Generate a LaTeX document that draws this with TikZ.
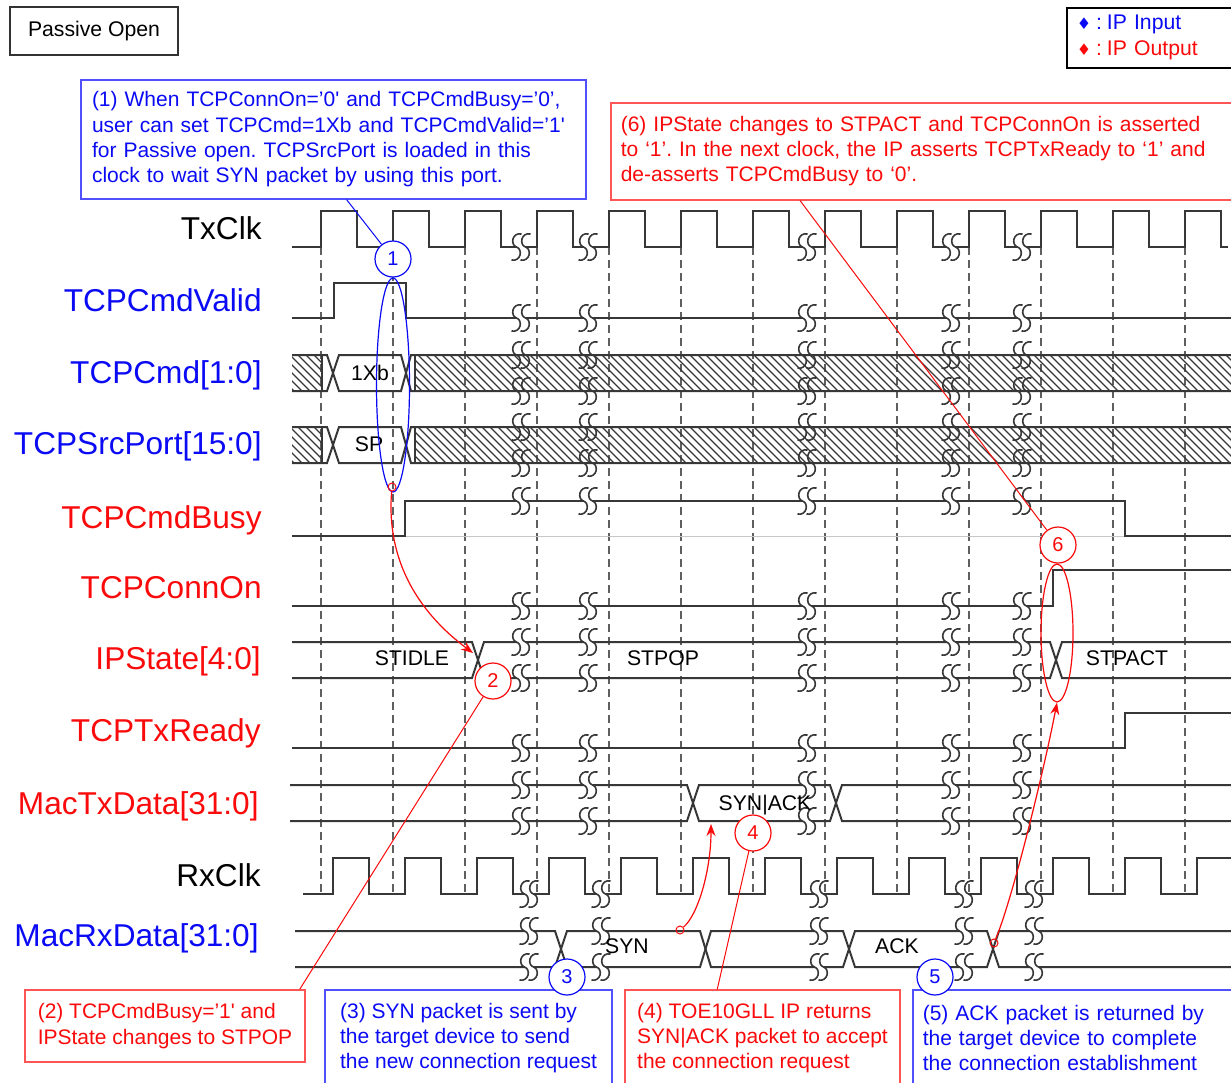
\documentclass[tikz,border=0pt]{standalone}
\usepackage{fontspec}
\setmainfont{Liberation Sans}
\newfontfamily\dvfont{DejaVu Sans}
\usetikzlibrary{arrows.meta,shapes.geometric,calc}
\frenchspacing
\definecolor{ipblue}{RGB}{10,10,245}
\definecolor{ipred}{RGB}{250,10,10}
\definecolor{boxblue}{RGB}{80,80,255}
\definecolor{boxred}{RGB}{255,85,85}
\definecolor{wavecol}{RGB}{55,55,55}
\definecolor{dashcol}{RGB}{95,95,95}
\tikzset{
 wave/.style={draw=wavecol, line width=1pt, line join=miter},
 hatchln/.style={draw=wavecol, line width=0.55pt},
 gridln/.style={draw=dashcol, line width=0.75pt, dash pattern=on 4pt off 2.5pt},
 siglabel/.style={anchor=base east, font=\fontsize{15.8}{18}\selectfont, inner sep=0pt},
 buslabel/.style={anchor=base, font=\fontsize{10.6}{12}\selectfont, inner sep=0pt, text=black},
 numc/.style={circle, draw, fill=white, minimum size=18pt, inner sep=0pt, line width=0.6pt, font=\fontsize{10}{12}\selectfont},
 note/.style={draw, line width=0.75pt, align=left, font=\fontsize{10.5}{12.65}\selectfont, inner sep=0pt},
 bluecon/.style={draw=ipblue, line width=0.5pt},
 redcon/.style={draw=ipred, line width=0.5pt},
 redarrow/.style={draw=ipred, line width=0.6pt, -{Stealth[length=6pt,width=4.5pt]}},
 tinyc/.style={circle, draw=ipred, line width=0.5pt, minimum size=4pt, inner sep=0pt},
 brkcurves/.pic={
   \draw[wavecol, line width=0.8pt] (0.5,-13) .. controls (-9,-15) and (-11,-2) .. (-4.5,0) .. controls (2,2) and (0,15) .. (-9.5,13);
   \draw[wavecol, line width=0.8pt] (9.5,-13) .. controls (0,-15) and (-2,-2) .. (4.5,0) .. controls (11,2) and (9,15) .. (-0.5,13);
 },
 brk/.pic={
   \fill[white] (-4.5,-2.5) rectangle (4.5,2.5);
   \pic {brkcurves};
 },
 brkh/.pic={\pic {brkcurves};},
}
\begin{document}
\begin{tikzpicture}[x=0.5pt,y=-0.5pt]
\clip (0,0) rectangle (1231,1082);
\fill[white] (0,0) rectangle (1231,1082);

% ---------- grid ----------
\foreach \k in {0,...,12} \draw[gridln] ({321+72*\k},247) -- ({321+72*\k},894);

% ---------- signal labels ----------
\node[siglabel, text=black]  (lTxClk) at (262,239) {TxClk};
\node[siglabel, text=ipblue] (lValid) at (262,311) {TCPCmdValid};
\node[siglabel, text=ipblue] (lCmd)   at (262,383) {TCPCmd[1:0]};
\node[siglabel, text=ipblue] (lSrc)   at (262,454) {TCPSrcPort[15:0]};
\node[siglabel, text=ipred]  (lBusy)  at (262,528) {TCPCmdBusy};
\node[siglabel, text=ipred]  (lConn)  at (262,598) {TCPConnOn};
\node[siglabel, text=ipred]  (lState) at (261,669) {IPState[4:0]};
\node[siglabel, text=ipred]  (lTxRdy) at (261,741) {TCPTxReady};
\node[siglabel, text=ipred]  (lMacTx) at (259,814) {MacTxData[31:0]};
\node[siglabel, text=black]  (lRxClk) at (261,886) {RxClk};
\node[siglabel, text=ipblue] (lMacRx) at (259,946) {MacRxData[31:0]};

% ---------- TxClk ----------
\draw[wave] (292,247) \foreach \k in {0,...,12}{ -- ({321+72*\k},247) -- ({321+72*\k},211) -- ({357+72*\k},211) -- ({357+72*\k},247)} -- (1228,247);
\foreach \bx in {521,588,807,951,1022} \pic at (\bx,247) {brk};

% ---------- TCPCmdValid ----------
\draw[wave] (292,318) -- (334,318) -- (334,283) -- (406,283) -- (406,318) -- (1240,318);
\foreach \bx in {521,588,807,951,1022} \pic at (\bx,318) {brk};

% ---------- hatched buses ----------
\begin{scope}
\clip (292,355) rectangle (322,391) (415,355) rectangle (1240,391)
      (292,427) rectangle (322,463) (415,427) rectangle (1240,463);
\foreach \i in {0,...,126} {
  \draw[hatchln] ({250+8*\i},355) -- ({286+8*\i},391);
  \draw[hatchln] ({250+8*\i},427) -- ({286+8*\i},463);
}
\end{scope}
% TCPCmd
\draw[wave] (292,355) -- (327,355) -- (339,391) -- (401,391) -- (411,355) -- (1240,355);
\draw[wave] (292,391) -- (327,391) -- (339,355) -- (401,355) -- (411,391) -- (1240,391);
\draw[wave] (322,355) -- (322,391) (415,355) -- (415,391);
\node[buslabel] (vCmd) at (370,380) {1Xb};
% TCPSrcPort
\draw[wave] (292,427) -- (327,427) -- (339,463) -- (401,463) -- (411,427) -- (1240,427);
\draw[wave] (292,463) -- (327,463) -- (339,427) -- (401,427) -- (411,463) -- (1240,463);
\draw[wave] (322,427) -- (322,463) (415,427) -- (415,463);
\node[buslabel] (vSrc) at (369,451) {SP};
\foreach \bx in {521,588,807,951,1022} {
  \pic at (\bx,355) {brkh}; \pic at (\bx,391) {brkh};
  \pic at (\bx,427) {brkh}; \pic at (\bx,463) {brkh};
}

% ---------- TCPCmdBusy ----------
\draw[draw=black!22, line width=0.5pt] (405,536) -- (1125,536);
\draw[wave] (292,536) -- (405,536) -- (405,501) -- (1125,501) -- (1125,536) -- (1240,536);
\foreach \bx in {521,588,807,951,1022} \pic at (\bx,501) {brk};

% ---------- TCPConnOn ----------
\draw[wave] (292,606) -- (1053,606) -- (1053,570) -- (1240,570);
\foreach \bx in {521,588,807,951,1022} \pic at (\bx,606) {brk};

% ---------- IPState ----------
\draw[wave] (292,642) -- (472,642) -- (484,678) -- (1050,678) -- (1062,642) -- (1240,642);
\draw[wave] (292,678) -- (472,678) -- (484,642) -- (1050,642) -- (1062,678) -- (1240,678);
\foreach \bx in {521,588,807,951,1022} {\pic at (\bx,642) {brk}; \pic at (\bx,678) {brk};}
\node[buslabel] (vIdle) at (412,665) {STIDLE};
\node[buslabel] (vPop) at (663,665) {STPOP};
\node[buslabel] (vAct) at (1127,665) {STPACT};

% ---------- TCPTxReady ----------
\draw[wave] (292,748) -- (1125,748) -- (1125,713) -- (1240,713);
\foreach \bx in {521,588,807,951,1022} \pic at (\bx,748) {brk};

% ---------- MacTxData ----------
\draw[wave] (290,785) -- (687,785) -- (699,821) -- (830,821) -- (842,785) -- (1240,785);
\draw[wave] (290,821) -- (687,821) -- (699,785) -- (830,785) -- (842,821) -- (1240,821);
\foreach \bx in {521,588,807,951,1022} {\pic at (\bx,785) {brk}; \pic at (\bx,821) {brk};}
\node[buslabel] (vSynAck) at (765,810) {SYN|ACK};

% ---------- RxClk ----------
\draw[wave] (303,894) \foreach \k in {0,...,11}{ -- ({333+72*\k},894) -- ({333+72*\k},858) -- ({369+72*\k},858) -- ({369+72*\k},894)} -- (1197,894) -- (1197,858) -- (1240,858);
\foreach \bx in {529,601,819,964,1034} \pic at (\bx,894) {brk};

% ---------- MacRxData ----------
\draw[wave] (295,931) -- (555,931) -- (567,967) -- (700,967) -- (711,931) -- (843,931) -- (855,967) -- (987,967) -- (999,931) -- (1240,931);
\draw[wave] (295,967) -- (555,967) -- (567,931) -- (700,931) -- (711,967) -- (843,967) -- (855,931) -- (987,931) -- (999,967) -- (1240,967);
\foreach \bx in {529,601,819,964,1034} {\pic at (\bx,931) {brk}; \pic at (\bx,967) {brk};}
\node[buslabel] (vSyn) at (627,953) {SYN};
\node[buslabel] (vAck) at (897,953) {ACK};

% ---------- title and legend ----------
\node[draw=black!80, line width=0.75pt, minimum width=84pt, minimum height=24pt, inner sep=0pt,
      font=\fontsize{10.6}{12}\selectfont] (title) at (94,31) {Passive Open};
\node[draw=black, line width=0.75pt, anchor=north west, align=left, text width=100pt,
      minimum height=30pt, inner xsep=5pt, inner ysep=0pt, font=\fontsize{10.6}{13}\selectfont] (legend) at (1066,7)
  {\textcolor{ipblue}{{\dvfont\fontsize{8}{10}\selectfont ♦}\hspace{2.5pt}:\hspace{2.5pt}IP Input}\\
   \textcolor{ipred}{{\dvfont\fontsize{8}{10}\selectfont ♦}\hspace{2.5pt}:\hspace{2.5pt}IP Output}};

% ---------- note boxes ----------
\node[note, draw=boxblue, text=ipblue, text width=241.5pt, inner xsep=5.5pt, minimum height=59.5pt] (box1) at (333.5,139.5)
 {(1) When TCPConnOn=’0\textquotesingle{} and TCPCmdBusy=’0’,\\
  user can set TCPCmd=1Xb and TCPCmdValid=’1\textquotesingle\\
  for Passive open. TCPSrcPort is loaded in this\\
  clock to wait SYN packet by using this port.};
\node[note, draw=boxred, text=ipred, anchor=north west, text width=310pt, inner xsep=5pt, minimum height=48.5pt] (box6) at (610,102)
 {(6) IPState changes to STPACT and TCPConnOn is asserted\\
  to ‘1’. In the next clock, the IP asserts TCPTxReady to ‘1’ and\\
  de-asserts TCPCmdBusy to ‘0’.};
\node[note, draw=boxred, text=ipred, minimum width=140pt, minimum height=36pt] (box2) at (165,1026)
 {(2) TCPCmdBusy=’1\textquotesingle{} and\\ IPState changes to STPOP};
\node[note, draw=boxblue, text=ipblue, minimum width=143.5pt, minimum height=48pt] (box3) at (468.5,1038)
 {(3) SYN packet is sent by\\ the target device to send\\ the new connection request};
\node[note, draw=boxred, text=ipred, minimum width=137.5pt, minimum height=48pt] (box4) at (762.5,1038)
 {(4) TOE10GLL IP returns\\ SYN|ACK packet to accept\\ the connection request};
\node[note, draw=boxblue, text=ipblue, anchor=west, text width=160pt, inner xsep=5pt, minimum height=48pt] (box5) at (912,1038)
 {(5) ACK packet is returned by\\ the target device to complete\\ the connection establishment};

% ---------- ellipses and markers ----------
\node[ellipse, draw=ipblue, line width=0.6pt, minimum width=16.5pt, minimum height=107pt, inner sep=0pt] (e1) at (393,385) {};
\node[ellipse, draw=ipred, line width=0.6pt, minimum width=16pt, minimum height=69pt, inner sep=0pt] (e6) at (1057,633) {};
\node[tinyc] (s1) at (392,487) {};
\node[tinyc] (s4) at (680,930) {};
\node[tinyc] (s5) at (994,943) {};
\coordinate (ipx) at (473,653);
\coordinate (mtx) at (711,824);

% ---------- numbered circles ----------
\node[numc, draw=ipblue, text=ipblue] (c1) at (393,259) {1};
\node[numc, draw=ipred, text=ipred] (c2) at (493,681) {2};
\node[numc, draw=ipblue, text=ipblue] (c3) at (567,977) {3};
\node[numc, draw=ipred, text=ipred] (c4) at (753,833) {4};
\node[numc, draw=ipblue, text=ipblue] (c5) at (935,977) {5};
\node[numc, draw=ipred, text=ipred] (c6) at (1058,545) {6};

% ---------- connectors ----------
\draw[bluecon] ($(box1.south west)!0.526!(box1.south east)$) -- (c1);
\draw[redcon] (c2) -- ($(box2.north east)+(-6,0)$);
\draw[redcon] (c4) -- ($(box4.north west)+(93,0)$);
\draw[redcon] ($(box6.south west)+(190,0)$) -- (c6);
\draw[redarrow] (s1) .. controls (386,560) and (418,612) .. (ipx);
\draw[redarrow] (s4) .. controls (698,915) and (711,870) .. (mtx);
\draw[redarrow] (s5) .. controls (1012,900) and (1043,775) .. (e6.south);
\end{tikzpicture}
\end{document}
